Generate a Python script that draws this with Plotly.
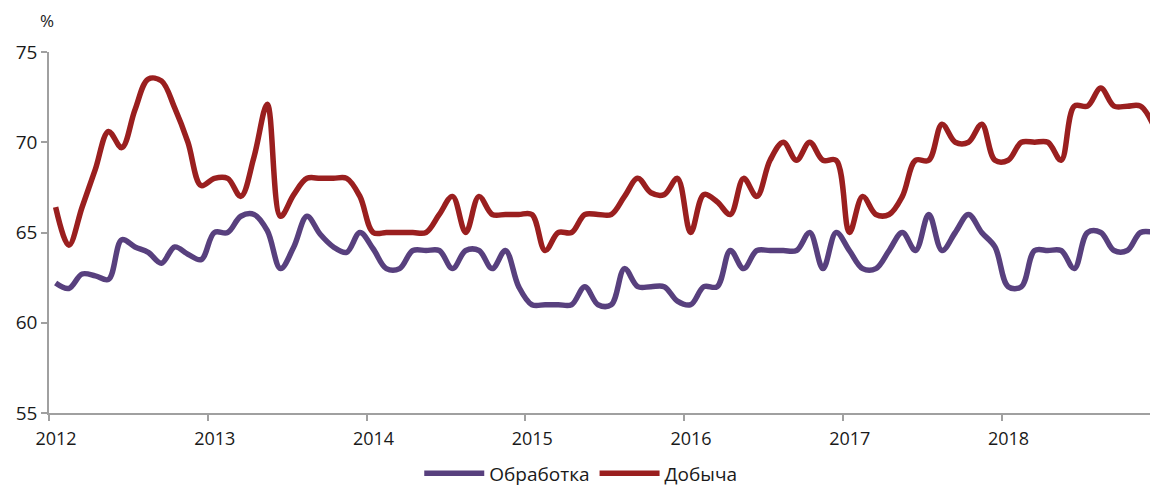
import plotly.graph_objects as go

years = ["2012", "2013", "2014", "2015", "2016", "2017", "2018"]
y_ticks = [55, 60, 65, 70, 75]

obrabotka = [
    62.2, 61.9, 62.7, 62.6, 62.4, 64.6, 64.2, 63.9, 63.3, 64.2, 63.8, 63.5,
    65.0, 65.0, 65.9, 66.0, 65.1, 63.0, 64.2, 65.9, 64.9, 64.2, 63.9, 65.0,
    64.1, 63.0, 63.0, 64.0, 64.0, 64.0, 63.0, 64.0, 64.0, 63.0, 64.0, 62.0,
    61.0, 61.0, 61.0, 61.0, 62.0, 61.0, 61.0, 63.0, 62.0, 62.0, 62.0, 61.2,
    61.0, 62.0, 62.0, 64.0, 63.0, 64.0, 64.0, 64.0, 64.0, 65.0, 63.0, 65.0,
    64.0, 63.0, 63.0, 64.0, 65.0, 64.0, 66.0, 64.0, 65.0, 66.0, 65.0, 64.2,
    62.0, 62.0, 64.0, 64.0, 64.0, 63.0, 65.0, 65.0, 64.0, 64.0, 65.0, 65.0,
]

dobycha = [
    66.4, 64.3, 66.4, 68.5, 70.6, 69.7, 71.8, 73.5, 73.4, 71.9, 70.0, 67.6,
    68.0, 68.0, 67.0, 69.2, 72.1, 65.9, 67.1, 68.0, 68.0, 68.0, 68.0, 67.0,
    65.0, 65.0, 65.0, 65.0, 65.0, 66.0, 67.0, 65.0, 67.0, 66.0, 66.0, 66.0,
    66.0, 64.0, 65.0, 65.0, 66.0, 66.0, 66.0, 67.0, 68.0, 67.2, 67.1, 68.0,
    65.0, 67.1, 66.7, 66.0, 68.0, 67.0, 69.0, 70.0, 69.0, 70.0, 69.0, 69.0,
    65.0, 67.0, 66.0, 66.0, 67.0, 69.0, 69.0, 71.0, 70.0, 70.0, 71.0, 69.0,
    69.0, 70.0, 70.0, 70.0, 69.0, 72.0, 72.0, 73.0, 72.0, 72.0, 72.0, 70.9,
]

months = list(range(len(obrabotka)))
year_bounds = [12 * k - 0.5 for k in range(len(years))]

PURPLE = "#58407e"
RED = "#9a1f1f"
AXIS = "#a0a0a0"
FONT = "Open Sans"

fig = go.Figure()
fig.add_trace(go.Scatter(
    x=months, y=obrabotka, name="Обработка", mode="lines",
    line=dict(color=PURPLE, width=5.5, shape="spline", smoothing=1.0),
))
fig.add_trace(go.Scatter(
    x=months, y=dobycha, name="Добыча", mode="lines",
    line=dict(color=RED, width=5.5, shape="spline", smoothing=1.0),
))

fig.update_layout(
    width=1150, height=488, autosize=False,
    margin=dict(l=49, r=0, t=52, b=75, autoexpand=False),
    plot_bgcolor="white", paper_bgcolor="white",
    font=dict(family=FONT, size=18, color="#1a1a1a"),
    showlegend=True,
    legend=dict(
        orientation="h", xref="container", yref="container",
        x=0.505, y=0.03, xanchor="center", yanchor="middle",
        font=dict(family=FONT, size=19, color="#1a1a1a"),
        itemwidth=60, tracegroupgap=0,
    ),
    annotations=[dict(
        text="%", xref="paper", yref="paper", x=0, y=1,
        xanchor="center", yanchor="middle", xshift=-2, yshift=32,
        showarrow=False, font=dict(family=FONT, size=17, color="#1a1a1a"),
    )],
)

fig.update_xaxes(
    range=[-0.5, -0.5 + 1101 / 13.23],
    tickmode="array", tickvals=year_bounds, ticktext=years,
    ticks="outside", ticklen=6, tickwidth=1.5, tickcolor=AXIS,
    ticklabelshift=7, ticklabelstandoff=3,
    showline=True, linecolor=AXIS, linewidth=1.5,
    showgrid=False, zeroline=False,
    tickfont=dict(family=FONT, size=18, color="#1a1a1a"),
)
fig.update_yaxes(
    range=[55, 75],
    tickmode="array", tickvals=y_ticks,
    ticks="outside", ticklen=6, tickwidth=1.5, tickcolor=AXIS,
    showline=True, linecolor=AXIS, linewidth=1.5,
    showgrid=False, zeroline=False,
    tickfont=dict(family=FONT, size=19, color="#1a1a1a"),
)

fig.write_html(
    "out.html",
    config={"displayModeBar": False},
    post_script="document.body.style.margin='0';document.body.style.overflow='hidden';",
)
